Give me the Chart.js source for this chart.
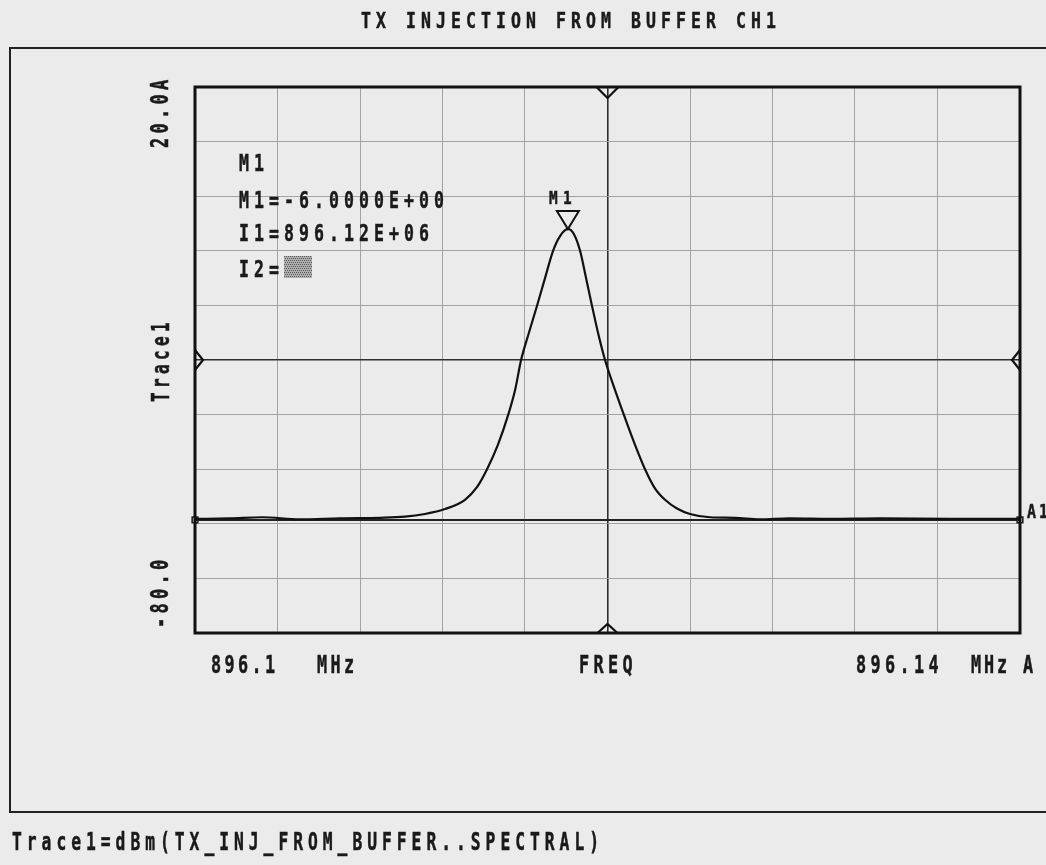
<!DOCTYPE html>
<html><head><meta charset="utf-8">
<script src="https://cdn.jsdelivr.net/npm/chart.js@4/dist/chart.umd.min.js"></script>
<style>html,body{margin:0;padding:0;background:#ebebeb;}canvas{display:block}</style>
</head><body>
<canvas id="c" width="1046" height="865"></canvas>
<script>
// ---- texts ----
const titleText = 'TX INJECTION FROM BUFFER CH1';
const footerText = 'Trace1=dBm(TX_INJ_FROM_BUFFER..SPECTRAL)';
const yAxisName = 'Trace1';
const yTickLabels = ['20.0A', '-80.0'];
const xTickLabels = ['896.1', '896.14'];
const xUnitLabels = ['MHz', 'MHz A'];
const xAxisName = 'FREQ';
// ---- axes ----
const freqMin = 896.1, freqMax = 896.14, freqCenter = 896.12, freqStep = 0.004;
const levelMin = -80, levelMax = 20, levelCenter = -30, levelStep = 10;
// ---- trace (MHz, dBm) ----
const freqMHz = [896.10000, 896.10170, 896.10325, 896.10509, 896.10703, 896.10897, 896.11018, 896.11115,
  896.11212, 896.11309, 896.11367, 896.11416, 896.11469, 896.11518, 896.11552, 896.11581, 896.11619,
  896.11658, 896.11697, 896.11736, 896.11770, 896.11808, 896.11838, 896.11867, 896.11896, 896.11925,
  896.11954, 896.11988, 896.12032, 896.12080, 896.12128, 896.12182, 896.12230, 896.12279, 896.12337,
  896.12400, 896.12497, 896.12618, 896.12739, 896.12885, 896.13079, 896.13321, 896.13661, 896.14000];
const traceDbm = [-59.1, -59.0, -58.8, -59.2, -59.0, -58.9, -58.7, -58.2,
  -57.3, -55.6, -53.3, -50.0, -45.5, -40.1, -35.5, -30.0, -25.0,
  -20.1, -15.0, -10.0, -7.3, -6.0, -7.0, -10.0, -15.0, -20.1,
  -25.0, -30.0, -35.0, -40.1, -45.0, -50.0, -53.5, -55.6, -57.2,
  -58.2, -58.8, -58.9, -59.2, -59.0, -59.1, -59.0, -59.1, -59.1];
// ---- marker / reference ----
const markerName = 'M1';
const markerFreq = 896.11808;
const markerLevel = -6.0;
const readoutLines = ['M1', 'M1=-6.0000E+00', 'I1=896.12E+06', 'I2='];
const refName = 'A1';
const refLevel = -59.3;

function drawText(ctx, s, x, y, o) {
  ctx.save();
  ctx.font = 'bold ' + o.size + 'px "DejaVu Sans Mono"';
  ctx.fillStyle = o.color || '#1a1a1a';
  ctx.strokeStyle = o.color || '#1a1a1a';
  ctx.textBaseline = 'alphabetic';
  ctx.textAlign = 'left';
  ctx.letterSpacing = '0px';
  const adv = ctx.measureText('0').width;
  ctx.translate(x, y);
  if (o.rot) ctx.rotate(o.rot);
  ctx.scale(o.sx, 1);
  ctx.letterSpacing = (o.pitch / o.sx - adv) + 'px';
  ctx.lineWidth = o.lw || 0.5;
  ctx.fillText(s, 0, 0);
  ctx.strokeText(s, 0, 0);
  ctx.restore();
}

const decor = {
  id: 'decor',
  beforeDraw(chart) {
    const ctx = chart.ctx;
    ctx.save();
    ctx.fillStyle = '#ebebeb';
    ctx.fillRect(0, 0, chart.width, chart.height);
    ctx.strokeStyle = '#222';
    ctx.lineWidth = 2;
    ctx.strokeRect(10, 48, 1050, 764);
    ctx.restore();
  },
  afterDraw(chart) {
    const ctx = chart.ctx;
    const a = chart.chartArea;
    const xs = chart.scales.x, ys = chart.scales.y;
    const cx = xs.getPixelForValue(freqCenter);
    const cy = ys.getPixelForValue(levelCenter);
    ctx.save();
    ctx.strokeStyle = '#111';
    ctx.lineWidth = 3;
    ctx.strokeRect(a.left, a.top, a.right - a.left, a.bottom - a.top);
    ctx.lineWidth = 2.2;
    ctx.beginPath();
    ctx.moveTo(cx - 11, a.top); ctx.lineTo(cx, a.top + 11); ctx.lineTo(cx + 11, a.top);
    ctx.moveTo(cx - 10, a.bottom); ctx.lineTo(cx, a.bottom - 9); ctx.lineTo(cx + 10, a.bottom);
    ctx.moveTo(a.left, cy - 10); ctx.lineTo(a.left + 8, cy); ctx.lineTo(a.left, cy + 10);
    ctx.moveTo(a.right, cy - 10); ctx.lineTo(a.right - 8, cy); ctx.lineTo(a.right, cy + 10);
    ctx.stroke();
    const mx = xs.getPixelForValue(markerFreq), my = ys.getPixelForValue(markerLevel);
    ctx.lineWidth = 2;
    ctx.beginPath();
    ctx.moveTo(mx, my); ctx.lineTo(mx - 11, my - 18); ctx.lineTo(mx + 11, my - 18); ctx.closePath();
    ctx.stroke();
    ctx.restore();
    drawText(ctx, markerName, mx - 19, my - 25, {size: 18, pitch: 14, sx: 0.8});
    const rb = [171, 208, 241, 277];
    readoutLines.forEach((s, i) => drawText(ctx, s, 239, rb[i], {size: 23, pitch: 15, sx: 0.72}));
    ctx.save();
    ctx.fillStyle = '#b0b0b0';
    ctx.fillRect(284, 256, 28, 22);
    ctx.fillStyle = '#555';
    for (let yy = 256; yy < 278; yy += 2) for (let xx = 284 + ((yy / 2) % 2); xx < 312; xx += 2) ctx.fillRect(xx, yy, 1, 1);
    ctx.restore();
    drawText(ctx, titleText, 361, 28, {size: 22, pitch: 15, sx: 0.75});
    drawText(ctx, footerText, 12, 850, {size: 24, pitch: 14.8, sx: 0.68});
    drawText(ctx, xTickLabels[0], 211, 673, {size: 24, pitch: 13.5, sx: 0.7});
    drawText(ctx, xUnitLabels[0], 317, 673, {size: 24, pitch: 13.5, sx: 0.7});
    drawText(ctx, xAxisName, 579, 673, {size: 24, pitch: 14.5, sx: 0.7});
    drawText(ctx, xTickLabels[1], 856, 673, {size: 24, pitch: 14.5, sx: 0.7});
    drawText(ctx, xUnitLabels[1], 971, 673, {size: 24, pitch: 13, sx: 0.7});
    drawText(ctx, yTickLabels[0], 168, 148, {size: 25, pitch: 14.5, sx: 0.68, rot: -Math.PI / 2});
    drawText(ctx, yTickLabels[1], 168, 628, {size: 25, pitch: 14.5, sx: 0.68, rot: -Math.PI / 2});
    drawText(ctx, yAxisName, 169, 402, {size: 25, pitch: 14, sx: 0.64, rot: -Math.PI / 2});
    drawText(ctx, refName, 1027, 518, {size: 20, pitch: 12, sx: 0.75});
  }
};

const isCenter = (v, c) => Math.abs(v - c) < 1e-6;

new Chart(document.getElementById('c'), {
  type: 'line',
  data: {
    datasets: [
      {
        data: freqMHz.map((f, i) => ({x: f, y: traceDbm[i]})),
        borderColor: '#111', borderWidth: 2.2, pointRadius: 0,
        cubicInterpolationMode: 'monotone', fill: false
      },
      {
        data: [{x: freqMin, y: refLevel}, {x: freqMax, y: refLevel}],
        borderColor: '#222', borderWidth: 1.8,
        pointStyle: 'rect', pointRadius: 4, pointBorderWidth: 1.6,
        pointBackgroundColor: 'rgba(0,0,0,0)', clip: false
      }
    ]
  },
  options: {
    responsive: false,
    animation: false,
    events: [],
    layout: {padding: {left: 195, top: 87, right: 26, bottom: 232}},
    plugins: {legend: {display: false}, tooltip: {enabled: false}, title: {display: false}},
    scales: {
      x: {
        type: 'linear', min: freqMin, max: freqMax,
        ticks: {display: false, stepSize: freqStep},
        border: {display: false},
        grid: {
          drawTicks: false,
          color: c => isCenter(c.tick.value, freqCenter) ? '#2e2e2e' : '#a3a3a3',
          lineWidth: c => isCenter(c.tick.value, freqCenter) ? 1.6 : 1
        }
      },
      y: {
        type: 'linear', min: levelMin, max: levelMax,
        ticks: {display: false, stepSize: levelStep},
        border: {display: false},
        grid: {
          drawTicks: false,
          color: c => isCenter(c.tick.value, levelCenter) ? '#2e2e2e' : '#a3a3a3',
          lineWidth: c => isCenter(c.tick.value, levelCenter) ? 1.6 : 1
        }
      }
    }
  },
  plugins: [decor]
});
</script>
</body></html>
